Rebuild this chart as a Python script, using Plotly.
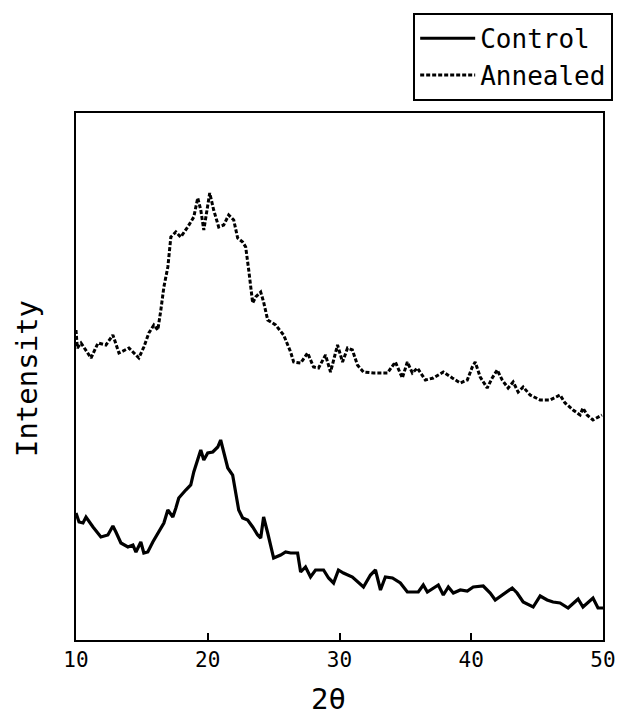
import plotly.graph_objects as go

# 2-theta (degrees) and intensity (arbitrary units)
annealed_x = [10.0, 10.1, 10.38, 11.14, 11.67, 12.27, 12.80, 13.26, 14.02, 14.55, 14.77, 15.15,
              15.53, 15.91, 16.21, 16.44, 16.67, 16.97, 17.20, 17.58, 17.95, 18.48, 18.94, 19.24,
              19.47, 19.70, 20.00, 20.15, 20.45, 20.83, 21.21, 21.59, 21.97, 22.27, 22.65, 22.88,
              23.11, 23.41, 23.64, 24.02, 24.24, 24.55, 25.15, 25.76, 26.29, 26.52, 27.05, 27.58,
              28.03, 28.41, 28.94, 29.32, 29.85, 30.23, 30.61, 30.98, 31.36, 31.82, 32.58, 33.64,
              34.24, 34.77, 35.15, 35.53, 35.91, 36.52, 37.12, 37.88, 38.56, 39.17, 39.70, 40.08,
              40.30, 40.68, 41.21, 41.59, 41.97, 42.35, 42.80, 43.18, 43.56, 43.94, 44.47, 45.23,
              45.98, 46.74, 47.12, 47.73, 48.26, 48.48, 48.79, 49.24, 49.92]
annealed_y = [310, 292, 297, 282, 297, 295, 305, 287, 292, 285, 282, 293,
              307, 315, 310, 330, 353, 373, 403, 408, 403, 413, 423, 442,
              430, 410, 433, 447, 430, 413, 415, 425, 420, 402, 398, 393,
              370, 337, 343, 348, 338, 320, 315, 305, 288, 278, 277, 287,
              273, 272, 285, 268, 295, 278, 292, 290, 275, 268, 267, 267,
              278, 262, 278, 267, 272, 260, 262, 268, 262, 257, 260, 273,
              278, 263, 252, 262, 270, 260, 252, 258, 248, 253, 245, 240,
              240, 245, 237, 230, 225, 232, 225, 220, 225]

control_x = [10.0, 10.23, 10.53, 10.76, 11.29, 11.89, 12.42, 12.80, 13.03, 13.41, 13.94, 14.32,
             14.55, 14.92, 15.15, 15.45, 15.83, 16.29, 16.67, 16.97, 17.35, 17.58, 17.80, 18.33,
             18.71, 18.94, 19.24, 19.47, 19.70, 20.00, 20.38, 20.76, 20.98, 21.21, 21.52, 21.89,
             22.12, 22.35, 22.65, 23.03, 23.41, 23.79, 24.02, 24.24, 24.55, 24.77, 25.00, 25.53,
             25.91, 26.29, 26.82, 27.05, 27.42, 27.80, 28.18, 28.79, 29.17, 29.55, 29.92, 30.30,
             30.98, 31.82, 32.35, 32.73, 33.11, 33.48, 34.02, 34.62, 35.15, 35.98, 36.36, 36.67,
             37.27, 37.50, 37.88, 38.26, 38.64, 39.17, 39.70, 40.15, 40.91, 41.44, 41.82, 42.35,
             42.73, 43.11, 43.48, 43.94, 44.70, 45.23, 45.76, 46.21, 46.74, 47.35, 48.11, 48.48,
             49.24, 49.62, 50.00]
control_y = [127, 118, 117, 123, 113, 103, 105, 114, 108, 97, 93, 95,
             88, 98, 87, 88, 98, 108, 117, 130, 123, 132, 142, 150,
             155, 168, 180, 190, 180, 187, 188, 193, 200, 187, 172, 165,
             148, 130, 122, 120, 113, 105, 102, 123, 107, 93, 82, 85,
             88, 87, 87, 68, 73, 63, 70, 70, 62, 57, 70, 67,
             63, 53, 65, 70, 50, 63, 62, 57, 48, 48, 55, 48,
             53, 55, 45, 53, 47, 50, 49, 53, 54, 47, 40, 45,
             48, 52, 47, 38, 33, 44, 40, 38, 37, 32, 41, 33,
             42, 32, 32]

x_ticks = [10, 20, 30, 40, 50]
x_title = "2θ"
y_title = "Intensity"

MONO = "DejaVu Sans Mono, Liberation Mono, monospace"

fig = go.Figure()
fig.add_trace(go.Scatter(x=control_x, y=control_y, mode="lines", name="Control",
                         line=dict(color="black", width=3.2)))
fig.add_trace(go.Scatter(x=annealed_x, y=annealed_y, mode="lines", name="Annealed",
                         line=dict(color="black", width=3, dash="4px,2px")))

fig.update_layout(
    width=620, height=715,
    margin=dict(l=76, r=17, t=113, b=75, autoexpand=False),
    paper_bgcolor="white", plot_bgcolor="white",
    showlegend=True,
    legend=dict(xref="container", yref="container", x=0.989, y=0.982,
                xanchor="right", yanchor="top",
                bordercolor="black", borderwidth=2, bgcolor="white",
                font=dict(family=MONO, size=26, color="black"),
                itemwidth=55, tracegroupgap=0),
    xaxis=dict(range=[10, 50], tickvals=x_ticks, ticktext=[str(t) for t in x_ticks],
               ticks="inside", ticklen=7, tickwidth=2, tickcolor="black",
               showline=True, linecolor="black", linewidth=2, mirror=True,
               showgrid=False, zeroline=False,
               tickfont=dict(family=MONO, size=21, color="black")),
    yaxis=dict(range=[0, 527], showticklabels=False, ticks="",
               showline=True, linecolor="black", linewidth=2, mirror=True,
               showgrid=False, zeroline=False),
    annotations=[
        dict(text=y_title, xref="paper", yref="paper", x=-0.093, y=0.497,
             xanchor="center", yanchor="middle", textangle=-90, showarrow=False,
             font=dict(family=MONO, size=29, color="black")),
        dict(text=x_title, xref="paper", yref="paper", x=0.48, y=-0.112,
             xanchor="center", yanchor="middle", showarrow=False,
             font=dict(family=MONO, size=29, color="black")),
    ],
)

fig.write_html("out.html", config={"displayModeBar": False},
               post_script="document.body.style.margin='0';document.body.style.overflow='hidden';")
